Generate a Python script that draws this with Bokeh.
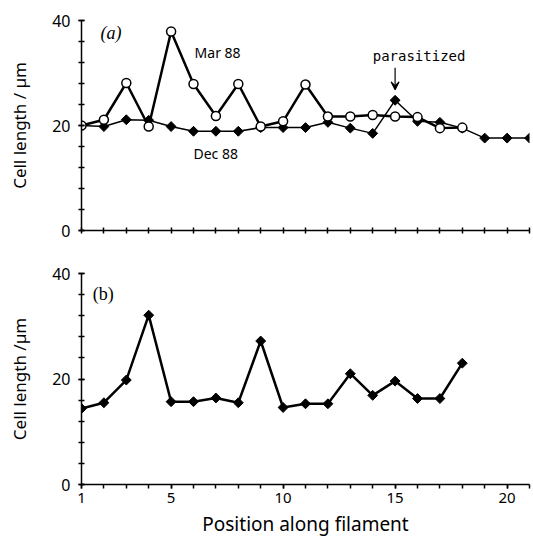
import math
from bokeh.plotting import figure
from bokeh.layouts import column
from bokeh.models import FixedTicker, Label, Arrow, VeeHead
from bokeh.embed import file_html
from bokeh.resources import INLINE

# Panel (a)
mar_x = [1, 2, 3, 4, 5, 6, 7, 8, 9, 10, 11, 12, 13, 14, 15, 16, 17, 18]
mar_y = [20.0, 21.1, 28.1, 19.8, 37.9, 27.9, 21.8, 27.9, 19.8, 20.8, 27.8, 21.7, 21.7, 22.0, 21.7, 21.6, 19.5, 19.6]
dec_x = [1, 2, 3, 4, 5, 6, 7, 8, 9, 10, 11, 12, 13, 14, 15, 16, 17, 18, 19, 20, 21]
dec_y = [20.0, 19.8, 21.1, 21.0, 19.8, 18.9, 18.9, 18.9, 19.6, 19.6, 19.6, 20.6, 19.5, 18.5, 24.8, 20.8, 20.6, 19.5, 17.6, 17.6, 17.6]

# Panel (b)
b_x = [1, 2, 3, 4, 5, 6, 7, 8, 9, 10, 11, 12, 13, 14, 15, 16, 17, 18]
b_y = [14.4, 15.5, 19.8, 32.1, 15.7, 15.7, 16.4, 15.5, 27.2, 14.6, 15.3, 15.3, 21.0, 16.9, 19.6, 16.3, 16.3, 23.0]

y_major = [0, 20, 40]
y_minor = list(range(0, 41, 4))
x_ticks = list(range(1, 22))
b_x_major = [1, 5, 10, 15, 20]

AX_FONT = "Noto Sans"


def style(p, ylabel="Cell length / µm"):
    p.outline_line_color = None
    p.xgrid.grid_line_color = None
    p.ygrid.grid_line_color = None
    p.yaxis.ticker = FixedTicker(ticks=y_major, minor_ticks=y_minor)
    p.yaxis.axis_label = ylabel
    p.yaxis.axis_label_text_font = AX_FONT
    p.yaxis.axis_label_text_font_style = "normal"
    p.yaxis.axis_label_text_font_size = "17px"
    p.yaxis.axis_label_text_color = "black"
    p.yaxis.axis_label_standoff = 18
    p.yaxis.major_label_text_font = AX_FONT
    p.yaxis.major_label_text_font_size = "16px"
    p.yaxis.major_label_text_color = "black"
    p.yaxis.major_label_standoff = 8
    for ax in (p.xaxis[0], p.yaxis[0]):
        ax.axis_line_color = "black"
        ax.axis_line_width = 1.5
        ax.major_tick_line_color = "black"
        ax.minor_tick_line_color = "black"
        ax.major_tick_line_width = 1.5
        ax.minor_tick_line_width = 1.5
        ax.major_tick_in = 3
        ax.major_tick_out = 3
        ax.minor_tick_in = 3
        ax.minor_tick_out = 3


pa = figure(width=533, height=250, x_range=(1, 21), y_range=(0, 40),
            output_backend="svg", toolbar_location=None,
            min_border_left=81, min_border_right=4, min_border_top=20, min_border_bottom=20)
style(pa)
pa.xaxis.ticker = FixedTicker(ticks=x_ticks)
pa.xaxis.major_label_overrides = {t: "" for t in x_ticks}

pa.line(dec_x, dec_y, line_color="black", line_width=1.5)
pa.line(mar_x, mar_y, line_color="black", line_width=2.5)
pa.scatter(dec_x, dec_y, marker="square", angle=math.pi / 4, size=7,
           fill_color="black", line_color="black")
pa.scatter(mar_x, mar_y, marker="circle", size=9,
           fill_color="white", line_color="black", line_width=1.5)

pa.add_layout(Label(x=1.85, y=37.7, text="(a)", text_font="Liberation Serif",
                    text_font_style="italic", text_font_size="18px",
                    text_color="black", text_baseline="middle"))
pa.add_layout(Label(x=6.05, y=33.9, text="Mar 88", text_font=AX_FONT,
                    text_font_size="14px", text_color="black", text_baseline="middle"))
pa.add_layout(Label(x=6.0, y=14.7, text="Dec 88", text_font=AX_FONT,
                    text_font_size="14px", text_color="black", text_baseline="middle"))
pa.add_layout(Label(x=14.0, y=33.2, text="parasitized", text_font="DejaVu Sans Mono",
                    text_font_size="14px", text_color="black", text_baseline="middle"))
pa.add_layout(Arrow(x_start=15, y_start=31.0, x_end=15, y_end=26.8,
                    line_color="black", line_width=1.2,
                    end=VeeHead(size=8, line_color="black", line_width=1.2)))

pb = figure(width=533, height=291, x_range=(1, 21), y_range=(0, 40),
            output_backend="svg", toolbar_location=None,
            min_border_left=81, min_border_right=4, min_border_top=23, min_border_bottom=57)
style(pb, "Cell length /µm")
pb.xaxis.ticker = FixedTicker(ticks=b_x_major, minor_ticks=x_ticks)
pb.xaxis.axis_label = "Position along filament"
pb.xaxis.axis_label_text_font = AX_FONT
pb.xaxis.axis_label_text_font_style = "normal"
pb.xaxis.axis_label_text_font_size = "19px"
pb.xaxis.axis_label_text_color = "black"
pb.xaxis.axis_label_standoff = 5
pb.xaxis.major_label_text_font = AX_FONT
pb.xaxis.major_label_text_font_size = "15px"
pb.xaxis.major_label_text_color = "black"
pb.xaxis.major_label_standoff = 4
pb.xaxis.major_tick_in = 0
pb.xaxis.minor_tick_in = 0
pb.xaxis.major_tick_out = 4
pb.xaxis.minor_tick_out = 4

pb.line(b_x, b_y, line_color="black", line_width=2.5)
pb.scatter(b_x, b_y, marker="square", angle=math.pi / 4, size=7,
           fill_color="black", line_color="black")
pb.add_layout(Label(x=1.5, y=36.2, text="(b)", text_font="Liberation Serif",
                    text_font_size="18px", text_color="black", text_baseline="middle"))

layout = column(pa, pb, spacing=0)
open("out.html", "w").write(file_html(layout, INLINE))
